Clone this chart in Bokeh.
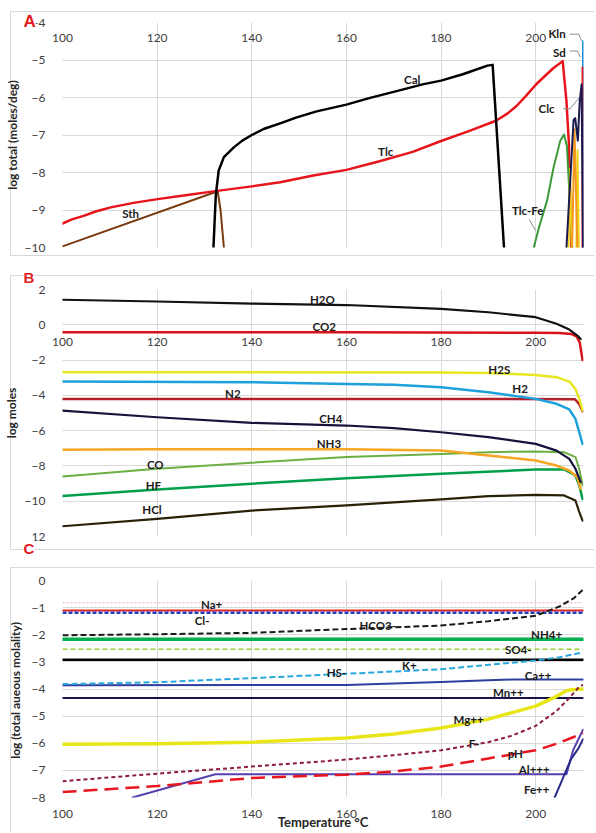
from bokeh.plotting import figure
from bokeh.layouts import column
from bokeh.models import LinearAxis, Range1d, Title
from bokeh.embed import file_html
from bokeh.resources import INLINE
from bokeh.core.properties import value

NAN = float("nan")
FONT = "Lato"
X_TICKS = [100, 120, 140, 160, 180, 200]

# ---------------- Panel A : log total (moles/deg) ----------------
a_cal_x = [131.9, 132.4, 133.0, 134.1, 136.2, 138.0, 140.0, 142.5, 146.0, 149.5, 153.7, 160, 165, 170.6, 176.1, 180, 184.6, 189.8, 190.9, 193.3]
a_cal_y = [-10, -8.6, -7.95, -7.59, -7.33, -7.15, -7.0, -6.84, -6.69, -6.53, -6.37, -6.19, -6.01, -5.83, -5.65, -5.55, -5.38, -5.15, -5.13, -10]
a_tlc_x = [100, 102, 104.6, 107, 110.2, 115, 120.1, 126.4, 132.7, 140, 146, 153, 160, 167, 174, 180, 186, 191.6, 194, 196, 198, 200, 202, 203.7, 205.7, 206.5, 207.0, 207.3, 207.5]
a_tlc_y = [-9.36, -9.25, -9.15, -9.04, -8.93, -8.81, -8.71, -8.6, -8.49, -8.37, -8.26, -8.08, -7.93, -7.7, -7.45, -7.16, -6.89, -6.62, -6.43, -6.22, -5.95, -5.66, -5.42, -5.22, -5.03, -6.1, -7.2, -8.8, -10]
a_sth_x = [100, 132.8, 133.4, 134.1]
a_sth_y = [-9.97, -8.5, -9.0, -10]
a_tlcfe_x = [199.6, 200.7, 202.4, 203.8, 205.2, 206.0, 206.6, 207.1, 207.7]
a_tlcfe_y = [-10, -9.46, -8.75, -7.85, -7.15, -6.99, -7.3, -8.5, -10]
a_orange_x = [207.7, 208.2, 208.8]
a_orange_y = [-10, -6.85, -10]
a_yellow_x = [206.9, 207.25, 207.6, NAN, 208.6, 208.85, 209.1]
a_yellow_y = [-10, -7.9, -10, NAN, -10, -7.4, -10]
a_kln_x = [210.0, 210.0]
a_kln_y = [-10, -4.5]
a_sd_x = [209.9, 209.9]
a_sd_y = [-10, -5.2]
a_clc_x = [206.5, 207.3, 208.0, 208.35, 208.9, 209.3, 209.7, 210.0]
a_clc_y = [-10, -8.2, -6.6, -6.55, -7.15, -6.1, -5.65, -10]

a_lab_text = ["Cal", "Tlc", "Sth", "Tlc-Fe", "Clc", "Sd", "Kln"]
a_lab_x = [173.9, 168.3, 114.4, 198.3, 202.3, 205.0, 204.5]
a_lab_y = [-5.52, -7.45, -9.1, -9.0, -6.3, -4.8, -4.3]
a_lead_xs = [[207.2, 209.1, 209.7], [207.2, 208.8, 209.5], [205.8, 207.3, 209.2], [198.6, 200.0]]
a_lead_ys = [[-4.31, -4.31, -4.49], [-4.76, -4.76, -4.93], [-6.3, -6.3, -6.0], [-9.25, -9.55]]

# ---------------- Panel B : log moles ----------------
b_h2o_x = [100, 120, 140, 160, 180, 190, 200, 204.4, 207.1, 208.8, 209.5]
b_h2o_y = [1.42, 1.32, 1.2, 1.12, 0.9, 0.71, 0.43, 0.06, -0.27, -0.61, -0.8]
b_co2_x = [100, 160, 200, 205, 207.5, 208.6, 209.3, 209.9]
b_co2_y = [-0.42, -0.43, -0.45, -0.47, -0.52, -0.65, -1.0, -2.0]
b_h2s_x = [100, 140, 180, 190, 200, 204.4, 207.1, 208.4, 209.2, 209.9]
b_h2s_y = [-2.69, -2.69, -2.7, -2.73, -2.84, -2.97, -3.22, -3.63, -4.2, -4.86]
b_h2_x = [100, 140, 160, 170, 180, 190, 200, 204.4, 207.1, 208.4, 209.2, 209.9]
b_h2_y = [-3.22, -3.25, -3.35, -3.4, -3.54, -3.82, -4.2, -4.48, -4.8, -5.33, -6.09, -6.75]
b_n2_x = [100, 180, 208.3, 209.2, 209.9]
b_n2_y = [-4.2, -4.2, -4.22, -4.5, -4.9]
b_ch4_x = [100, 120, 140, 160, 170, 180, 190, 200, 204.4, 207.1, 208.4, 209.5]
b_ch4_y = [-4.86, -5.24, -5.56, -5.71, -5.86, -6.09, -6.37, -6.75, -7.13, -7.6, -8.16, -8.92]
b_nh3_x = [100, 120, 160, 180, 190, 200, 204.4, 207.1, 208.8, 209.5]
b_nh3_y = [-7.09, -7.05, -7.05, -7.13, -7.41, -7.69, -7.98, -8.26, -8.64, -9.3]
b_co_x = [100, 120, 140, 160, 180, 190, 200, 206, 208.4, 209.2, 209.9]
b_co_y = [-8.6, -8.16, -7.82, -7.5, -7.32, -7.22, -7.18, -7.22, -7.5, -8.16, -9.11]
b_hf_x = [100, 120, 140, 160, 180, 200, 206, 208.4, 209.2, 209.9]
b_hf_y = [-9.71, -9.34, -9.01, -8.7, -8.45, -8.2, -8.2, -8.54, -9.11, -9.87]
b_hcl_x = [100, 120, 140, 160, 180, 190, 200, 206, 208.4, 209.1, 209.9]
b_hcl_y = [-11.42, -11.0, -10.53, -10.24, -9.9, -9.71, -9.64, -9.67, -9.96, -10.53, -11.1]

b_lab_text = ["H2O", "CO2", "H2S", "H2", "N2", "CH4", "NH3", "CO", "HF", "HCl"]
b_lab_x = [154.9, 155.3, 192.3, 196.7, 136.0, 156.7, 156.3, 119.6, 119.2, 118.9]
b_lab_y = [1.42, -0.1, -2.55, -3.6, -3.91, -5.33, -6.75, -7.94, -9.11, -10.47]

# ---------------- Panel C : log (total aqueous molality) ----------------
c_flat_x = [100, 210]
c_pale_y = [-0.82, -0.82]
c_na_y = [-1.11, -1.11]
c_cl_y = [-1.19, -1.19]
c_nh4_y = [-2.17, -2.17]
c_so4_y = [-2.53, -2.53]
c_k_y = [-2.92, -2.92]
c_mn_y = [-4.33, -4.33]
c_hco3_x = [100, 120, 140, 160, 180, 190, 200, 205, 208, 210]
c_hco3_y = [-2.02, -1.98, -1.93, -1.79, -1.66, -1.5, -1.3, -0.96, -0.66, -0.34]
c_hs_x = [100, 120, 140, 160, 180, 190, 200, 205, 210]
c_hs_y = [-3.82, -3.75, -3.6, -3.44, -3.27, -3.11, -2.95, -2.83, -2.65]
c_ca_x = [100, 160, 170, 180, 190, 195, 210]
c_ca_y = [-3.86, -3.85, -3.8, -3.74, -3.68, -3.65, -3.65]
c_mg_x = [100, 120, 140, 160, 170, 180, 190, 195, 200, 204.4, 206.4, 207.5, 210]
c_mg_y = [-6.04, -6.02, -5.96, -5.81, -5.66, -5.44, -5.11, -4.87, -4.63, -4.27, -4.07, -4.03, -4.0]
c_f_x = [100, 120, 140, 160, 170, 180, 190, 195, 200, 204.4, 207.1, 209.2, 210]
c_f_y = [-7.4, -7.12, -6.86, -6.6, -6.44, -6.26, -5.96, -5.72, -5.36, -4.81, -4.33, -3.91, -3.85]
c_ph_x = [100, 120, 140, 160, 170, 180, 190, 200, 204.4, 207.9, 210]
c_ph_y = [-7.8, -7.58, -7.28, -7.16, -7.04, -6.86, -6.56, -6.26, -6.02, -5.78, -5.63]
c_al_x = [114.8, 132.3, 206.5, 207.9, 210]
c_al_y = [-8.0, -7.14, -7.14, -6.26, -5.5]
c_fe_x = [204.0, 205.6, 206.8, 207.6, 209.0, 210]
c_fe_y = [-8.0, -7.35, -6.85, -6.55, -6.2, -5.85]

c_lab_text = ["Na+", "Cl-", "HCO3-", "NH4+", "SO4-", "K+", "HS-", "Ca++", "Mn++", "Mg++", "F-", "pH", "Al+++", "Fe++"]
c_lab_x = [131.5, 129.5, 166.6, 202.3, 196.3, 173.3, 157.9, 200.5, 194.2, 185.8, 187.0, 195.7, 199.7, 200.2]
c_lab_y = [-0.9, -1.47, -1.66, -1.99, -2.55, -3.13, -3.39, -3.49, -4.12, -5.11, -6.02, -6.38, -6.98, -7.7]

RED = "#e31b23"
GRAY = "#d9d9d9"
FIG_W = 594


def box_css(left, top, bottom=None):
    """faint chart-area frame drawn behind the (transparent) canvas"""
    parts = [f"inset {left}px 0 0 0 #fff", f"inset 0 {top}px 0 0 #fff"]
    if bottom is not None:
        parts.append(f"inset 0 -{bottom}px 0 0 #fff")
    parts += [f"inset {left + 1}px 0 0 0 {GRAY}", f"inset 0 {top + 1}px 0 0 {GRAY}"]
    if bottom is not None:
        parts.append(f"inset 0 -{bottom + 1}px 0 0 {GRAY}")
    return {"box-shadow": ", ".join(parts)}


def style_axis(ax):
    ax.axis_line_color = None
    ax.major_tick_line_color = None
    ax.minor_tick_line_color = None
    ax.major_label_text_font = FONT
    ax.major_label_text_font_size = "12px"
    ax.major_label_text_color = "#404040"


def base(height, yr, yticks, ytitle, top, bottom, title_standoff, css):
    p = figure(width=FIG_W, height=height, x_range=Range1d(100, 210.1), y_range=Range1d(*yr),
               output_backend="svg", toolbar_location=None,
               min_border_left=61, min_border_right=FIG_W - 583, min_border_top=top, min_border_bottom=bottom,
               border_fill_color=None, background_fill_color="white", outline_line_color=None,
               styles=css)
    p.xaxis.ticker = X_TICKS
    p.yaxis.ticker = yticks
    style_axis(p.xaxis[0])
    style_axis(p.yaxis[0])
    p.yaxis.major_label_standoff = 11
    p.yaxis.axis_label = ytitle
    p.yaxis.axis_label_text_font = FONT
    p.yaxis.axis_label_text_font_style = "bold"
    p.yaxis.axis_label_text_font_size = "12px"
    p.yaxis.axis_label_text_color = "#262626"
    p.yaxis.axis_label_standoff = title_standoff
    p.grid.grid_line_color = "#d9d9d9"
    p.grid.grid_line_width = 1
    return p


def inner_x_labels(p, standoff):
    """x tick labels drawn inside the plot area (axis crossing inside the chart)"""
    p.xaxis[0].visible = False
    ax = LinearAxis(ticker=X_TICKS, major_label_standoff=standoff)
    style_axis(ax)
    p.add_layout(ax, "below")


def letter_title(t, txt, size, standoff):
    t.text = txt
    t.align = "left"
    t.offset = -39
    t.vertical_align = "top"
    t.text_font = "Liberation Sans"
    t.text_font_style = "bold"
    t.text_font_size = size
    t.text_color = RED
    t.standoff = standoff
    t.background_fill_color = "white"


def ln(p, x, y, color, width=2.2, dash="solid"):
    cap = "round" if dash == "solid" else "butt"
    p.line(x, y, line_color=color, line_width=width, line_dash=dash, line_join="round", line_cap=cap)


def labels(p, xs, ys, texts):
    p.text(x=xs, y=ys, text=texts, text_font=value(FONT), text_font_style="bold",
           text_font_size="11.5px", text_color="#1a1a1a", text_align="center", text_baseline="middle")


# ---------- Figure A (page y 0..265, frame 22..247) ----------
pa = base(265, (-10, -4), [-10, -9, -8, -7, -6, -5, -4], "log total (moles/deg)", 22, 18, 2,
          box_css(10, 11, 9))
letter_title(pa.title, "A", "17px", -21)
inner_x_labels(pa, -220)
ln(pa, a_sth_x, a_sth_y, "#7a3b10", 2)
ln(pa, a_tlc_x, a_tlc_y, "#e8141b", 2.5)
ln(pa, a_cal_x, a_cal_y, "#000000", 2.5)
ln(pa, a_tlcfe_x, a_tlcfe_y, "#3a9a3a", 2)
ln(pa, a_yellow_x, a_yellow_y, "#f2d21b", 2)
ln(pa, a_orange_x, a_orange_y, "#f39a1e", 2)
ln(pa, a_kln_x, a_kln_y, "#1a8fd8", 2)
ln(pa, a_sd_x, a_sd_y, "#e8141b", 2)
ln(pa, a_clc_x, a_clc_y, "#1a1a50", 2)
pa.multi_line(xs=a_lead_xs, ys=a_lead_ys, line_color="#8c8c8c", line_width=1)
labels(pa, a_lab_x, a_lab_y, a_lab_text)

# ---------- Figure B (page y 265..562, frame 289..536) ----------
pb = base(297, (-12, 2), [-12, -10, -8, -6, -4, -2, 0, 2], "log moles", 24, 26, 3,
          box_css(10, 10, 12))
pb.yaxis.major_label_overrides = {-12: "12"}
letter_title(pb.title, "B", "15px", 4)
tc = Title()
letter_title(tc, "C", "15px", 6)
pb.add_layout(tc, "below")
inner_x_labels(pb, -230)
ln(pb, b_hcl_x, b_hcl_y, "#2a2208", 2.2)
ln(pb, b_hf_x, b_hf_y, "#00a04a", 2.5)
ln(pb, b_co_x, b_co_y, "#6cb043", 2)
ln(pb, b_nh3_x, b_nh3_y, "#f5a623", 2.5)
ln(pb, b_ch4_x, b_ch4_y, "#14143c", 2.2)
ln(pb, b_n2_x, b_n2_y, "#b3202a", 2.5)
ln(pb, b_h2_x, b_h2_y, "#1ea0dc", 2.5)
ln(pb, b_h2s_x, b_h2s_y, "#e8e620", 2.5)
ln(pb, b_co2_x, b_co2_y, "#d8141b", 2.5)
ln(pb, b_h2o_x, b_h2o_y, "#111111", 2.2)
labels(pb, b_lab_x, b_lab_y, b_lab_text)

# ---------- Figure C (page y 562..832, frame 580..802) ----------
pc = base(270, (-8, 0), [-8, -7, -6, -5, -4, -3, -2, -1, 0], "log  (total aueous molality)", 18, 30, 6,
          box_css(10, 5))
pc.xaxis.major_label_standoff = 6
pc.xaxis.axis_label = "Temperature °C"
pc.xaxis.axis_label_text_font = FONT
pc.xaxis.axis_label_text_font_style = "bold"
pc.xaxis.axis_label_text_font_size = "13px"
pc.xaxis.axis_label_text_color = "#262626"
pc.xaxis.axis_label_standoff = -7
ln(pc, c_flat_x, c_pale_y, "#f4c6c6", 1.5, "2 2")
ln(pc, c_flat_x, c_na_y, "#e8262a", 2)
ln(pc, c_flat_x, c_cl_y, "#1f3fbf", 2.5, "4 2")
ln(pc, c_flat_x, c_nh4_y, "#00b050", 3.5)
ln(pc, c_flat_x, c_so4_y, "#9acd32", 1.5, "5 3")
ln(pc, c_flat_x, c_k_y, "#000000", 2.5)
ln(pc, c_flat_x, c_mn_y, "#15154a", 2)
ln(pc, c_ca_x, c_ca_y, "#2f3f9f", 2)
ln(pc, c_hs_x, c_hs_y, "#2aa7dc", 2, "6 3")
ln(pc, c_hco3_x, c_hco3_y, "#1a1a1a", 2, "6 3")
ln(pc, c_mg_x, c_mg_y, "#e8e619", 3.5)
ln(pc, c_f_x, c_f_y, "#8b1c3c", 2, "4 3")
ln(pc, c_al_x, c_al_y, "#5a3fb0", 2)
ln(pc, c_fe_x, c_fe_y, "#2a2a8a", 2)
ln(pc, c_ph_x, c_ph_y, "#e8161e", 2.5, "14 7")
labels(pc, c_lab_x, c_lab_y, c_lab_text)

layout = column(pa, pb, pc, spacing=0)
open("out.html", "w").write(file_html(layout, INLINE))
